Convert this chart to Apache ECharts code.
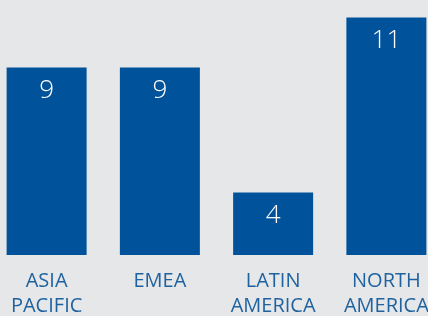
<!DOCTYPE html>
<html>
<head>
	<meta charset="utf-8">
	<title>Regions</title>
	<style>
		html, body { margin: 0; padding: 0; background: #e6e7e8; overflow: hidden; }
	</style>
</head>
<body>
	<div id="box" style="width: 453px;height: 316px;margin-left: -10px"></div>
	<script type="text/javascript" src="https://cdn.jsdelivr.net/npm/echarts@6/dist/echarts.min.js"></script>
	<script type="text/javascript">
	// data
	var regions = ['ASIA\nPACIFIC', 'EMEA', 'LATIN\nAMERICA', 'NORTH\nAMERICA'];
	var counts = [9, 9, 4, 11];

	var myChart = echarts.init(document.getElementById('box'));
	myChart.setOption({
		backgroundColor: '#e6e7e8',
		animation: false,
		// the div is wider than the window so the outer bars reach the edges
		grid: { left: 0, right: 0, top: 5, bottom: 61, outerBoundsMode: 'none', containLabel: false },
		xAxis: {
			type: 'category',
			data: regions,
			axisLine: { show: false },
			axisTick: { show: false },
			axisLabel: {
				color: '#1f62a0',
				fontFamily: 'Open Sans',
				fontSize: 20,
				lineHeight: 25,
				margin: 14
			}
		},
		yAxis: {
			type: 'value',
			min: 1.5,
			max: 11.5,
			show: false
		},
		series: [{
			type: 'bar',
			data: counts,
			barWidth: 80,
			itemStyle: { color: '#00539a' },
			label: {
				show: true,
				position: 'insideTop',
				distance: 10,
				color: '#ffffff',
				fontFamily: 'Open Sans',
				fontWeight: 300,
				fontSize: 26
			}
		}]
	});
	</script>
</body>
</html>
